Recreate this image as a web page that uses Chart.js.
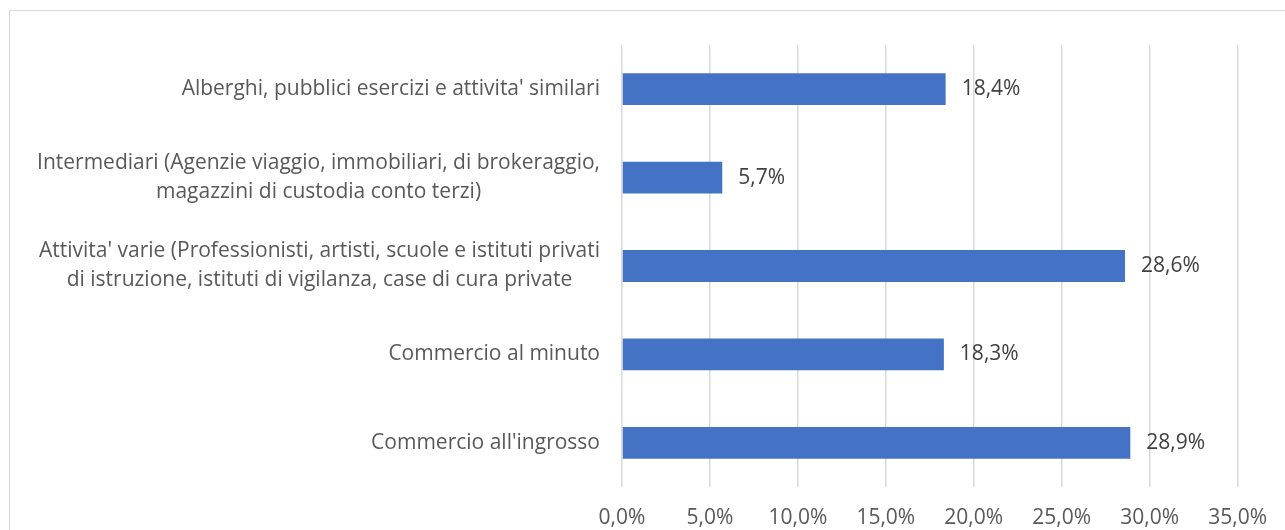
<!DOCTYPE html>
<html>
<head>
<meta charset="utf-8">
<script src="https://cdn.jsdelivr.net/npm/chart.js@4"></script>
<style>
  html, body { margin: 0; padding: 0; background: #fff; overflow: hidden; }
  #wrap { position: relative; width: 1285px; height: 530px; }
  #frame { position: absolute; left: 9px; top: 10px; width: 1400px; height: 600px; border: 1.5px solid #d9d9d9; box-sizing: border-box; }
  canvas { position: absolute; left: 0; top: 0; }
</style>
</head>
<body>
<div id="wrap">
  <div id="frame"></div>
  <canvas id="chart" width="1285" height="530"></canvas>
</div>
<script>
const categories = [
    ["Alberghi, pubblici esercizi e attivita' similari"],
    ["Intermediari (Agenzie viaggio, immobiliari, di brokeraggio,", "magazzini di custodia conto terzi)"],
    ["Attivita' varie (Professionisti, artisti, scuole e istituti privati", "di istruzione, istituti di vigilanza, case di cura private"],
    ["Commercio al minuto"],
    ["Commercio all'ingrosso"]
];
const values = [18.4, 5.7, 28.6, 18.3, 28.9];
const xTicks = [0, 5, 10, 15, 20, 25, 30, 35];

const FONT = "'Open Sans', sans-serif";
const fmt = v => v.toFixed(1).replace('.', ',') + '%';

// etichette asse y: blocco allineato a destra, righe centrate tra loro
const yLabels = {
    id: 'yLabels',
    afterDraw(chart) {
        const ctx = chart.ctx;
        const y = chart.scales.y;
        const right = chart.chartArea.left - 22;
        const lh = 29;
        ctx.save();
        ctx.font = '21px ' + FONT;
        ctx.fillStyle = '#595959';
        ctx.textAlign = 'center';
        ctx.textBaseline = 'middle';
        categories.forEach((lines, i) => {
            const w = Math.max(...lines.map(l => ctx.measureText(l).width));
            const cx = right - w / 2;
            const cy = y.getPixelForValue(i);
            lines.forEach((l, j) => {
                ctx.fillText(l, cx, cy + (j - (lines.length - 1) / 2) * lh);
            });
        });
        ctx.restore();
    }
};

const valueLabels = {
    id: 'valueLabels',
    afterDatasetsDraw(chart) {
        const ctx = chart.ctx;
        ctx.save();
        ctx.font = '21px ' + FONT;
        ctx.fillStyle = '#404040';
        ctx.textAlign = 'left';
        ctx.textBaseline = 'middle';
        chart.getDatasetMeta(0).data.forEach((bar, i) => {
            ctx.fillText(fmt(values[i]), bar.x + 16, bar.y);
        });
        ctx.restore();
    }
};

new Chart(document.getElementById('chart'), {
    type: 'bar',
    data: {
        labels: categories.map(c => c.join(' ')),
        datasets: [{
            data: values,
            backgroundColor: '#4472C4',
            borderWidth: 0,
            categoryPercentage: 1,
            barPercentage: 0.36
        }]
    },
    options: {
        indexAxis: 'y',
        responsive: false,
        animation: false,
        layout: { padding: { top: 45, right: 47, left: 0, bottom: 0 } },
        plugins: { legend: { display: false }, tooltip: { enabled: false } },
        scales: {
            x: {
                min: 0, max: 35,
                afterBuildTicks: s => { s.ticks = xTicks.map(v => ({ value: v })); },
                afterFit: s => { s.height = 43; },
                grid: { color: '#d9d9d9', lineWidth: 1.5, drawTicks: false },
                border: { display: false },
                ticks: {
                    padding: 18,
                    color: '#595959',
                    font: { family: FONT, size: 21 },
                    callback: v => fmt(v)
                }
            },
            y: {
                afterFit: s => { s.width = 622; },
                grid: { display: false },
                border: { display: false },
                ticks: { display: false }
            }
        }
    },
    plugins: [yLabels, valueLabels]
});
</script>
</body>
</html>
